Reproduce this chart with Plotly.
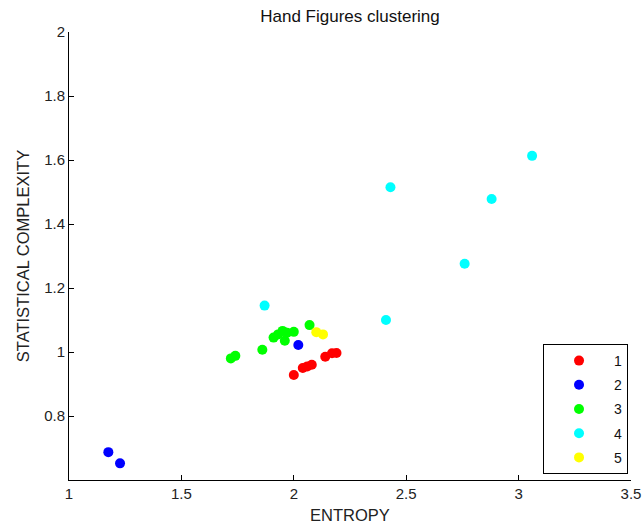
import plotly.graph_objects as go

# Cluster data: (entropy, statistical complexity)
c1_x = [2.00, 2.04, 2.06, 2.08, 2.14, 2.17, 2.19]
c1_y = [0.928, 0.950, 0.955, 0.960, 0.985, 0.996, 0.997]
c2_x = [2.02, 1.175, 1.227]
c2_y = [1.022, 0.687, 0.652]
c3_x = [1.72, 1.74, 1.86, 1.91, 1.93, 1.95, 1.97, 1.96, 2.00, 2.07]
c3_y = [0.980, 0.988, 1.007, 1.045, 1.055, 1.066, 1.060, 1.035, 1.063, 1.084]
c4_x = [1.87, 2.43, 2.88, 3.06, 2.76, 2.41]
c4_y = [1.145, 1.515, 1.478, 1.613, 1.276, 1.100]
c5_x = [2.10, 2.13]
c5_y = [1.062, 1.055]

names = ["1", "2", "3", "4", "5"]
colors = ["#ff0000", "#0000ff", "#00ff00", "#00ffff", "#ffff00"]
xs = [c1_x, c2_x, c3_x, c4_x, c5_x]
ys = [c1_y, c2_y, c3_y, c4_y, c5_y]

x_ticks = [1, 1.5, 2, 2.5, 3, 3.5]
x_ticktext = ["1", "1.5", "2", "2.5", "3", "3.5"]
y_ticks = [0.8, 1.0, 1.2, 1.4, 1.6, 1.8, 2.0]
y_ticktext = ["0.8", "1", "1.2", "1.4", "1.6", "1.8", "2"]

fig = go.Figure()
for n, c, x, y in zip(names, colors, xs, ys):
    fig.add_trace(go.Scatter(
        x=x, y=y, mode="markers", name=n, legendgroup=n,
        marker=dict(color=c, size=10, line=dict(width=0)),
    ))

font = "Liberation Sans, Arial, sans-serif"
fig.update_layout(
    width=644, height=527,
    paper_bgcolor="white", plot_bgcolor="white",
    margin=dict(l=69, r=13, t=32, b=47, autoexpand=False),
    font=dict(family=font, size=15, color="#222222"),
    title=dict(text="Hand Figures clustering", x=(69 + 562 / 2) / 644, xanchor="center",
               y=1 - 16 / 527, yanchor="middle", font=dict(size=17, color="#111111")),
    xaxis=dict(range=[1, 3.5], tickvals=x_ticks, ticktext=x_ticktext, automargin=False,
               showgrid=False, zeroline=False, showline=True, linecolor="black",
               linewidth=1, ticks="inside", ticklen=5, tickcolor="black",
               tickfont=dict(size=15, color="#222222"),
               title=dict(text="ENTROPY", standoff=8, font=dict(size=16.5, color="#222222")),
               mirror=False),
    yaxis=dict(range=[0.6, 2.0], tickvals=y_ticks, ticktext=y_ticktext, automargin=False,
               showgrid=False, zeroline=False, showline=True, linecolor="black",
               linewidth=1, ticks="inside", ticklen=5, tickcolor="black",
               tickfont=dict(size=15, color="#222222"),
               title=dict(text="STATISTICAL COMPLEXITY", standoff=10,
                          font=dict(size=16.5, color="#222222")),
               mirror=False),
    legend=dict(x=0.9947, xanchor="right", y=0.0134, yanchor="bottom",
                bordercolor="black", borderwidth=1, bgcolor="white",
                itemwidth=60, tracegroupgap=3,
                font=dict(size=14, color="#111111")),
)

fig.write_html("out.html")
